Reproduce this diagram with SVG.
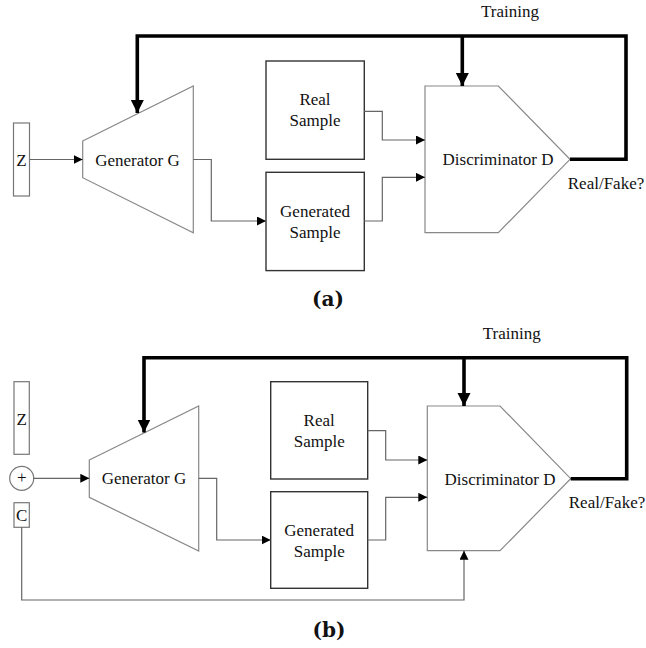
<svg xmlns="http://www.w3.org/2000/svg" width="646" height="648" viewBox="0 0 646 648">
<style>
text{font-family:'Liberation Serif','Tinos','DejaVu Serif',serif;font-size:17px;fill:#111;text-anchor:middle}
text.lab{font-family:'DejaVu Serif','Liberation Serif',serif;font-weight:bold;font-size:20px}
.vec{fill:#fff;stroke:#777;stroke-width:1.2}
.box{fill:#fff;stroke:#333;stroke-width:1.4}
.blk{fill:#fff;stroke:#888;stroke-width:1.2}
.thin{fill:none;stroke:#666;stroke-width:1.2}
.thick{fill:none;stroke:#000;stroke-width:3.6}
</style>
<defs>
<marker id="a" markerUnits="userSpaceOnUse" markerWidth="10" markerHeight="10" refX="9" refY="4.5" orient="auto"><path d="M0,0 L9,4.5 L0,9 Z" fill="#000"/></marker>
<marker id="A" markerUnits="userSpaceOnUse" markerWidth="14" markerHeight="14" refX="13" refY="6.5" orient="auto"><path d="M0,0 L13,6.5 L0,13 Z" fill="#000"/></marker>
</defs>

<!-- Panel (a) -->
<g id="a-z"><rect class="vec" x="13.5" y="123" width="16" height="73"/><text x="21.5" y="166">Z</text></g>
<g id="a-gen"><polygon class="blk" points="82.7,141 193.3,86 193.3,232.7 82.7,177.7"/><text x="137.5" y="166">Generator G</text></g>
<g id="a-real"><rect class="box" x="266" y="61" width="98.3" height="98.3"/><text x="315" y="105">Real</text><text x="315" y="126">Sample</text></g>
<g id="a-genS"><rect class="box" x="266" y="172.3" width="98.3" height="98.3"/><text x="315" y="217">Generated</text><text x="315" y="238">Sample</text></g>
<g id="a-disc"><polygon class="blk" points="425,86 498.3,86 570,159.3 498.3,232.7 425,232.7"/><text x="498" y="165">Discriminator D</text></g>
<g id="a-texts"><text x="510" y="17">Training</text><text x="606" y="189">Real/Fake?</text><text class="lab" x="328" y="306">(a)</text></g>
<g id="a-edges">
<path class="thin" d="M29.5,159.5 H82.7" marker-end="url(#a)"/>
<path class="thin" d="M193.3,159.5 H211.3 V221 H266" marker-end="url(#a)"/>
<path class="thin" d="M364.3,111.3 H382.3 V140 H425" marker-end="url(#a)"/>
<path class="thin" d="M364.3,221 H382.3 V177.3 H425" marker-end="url(#a)"/>
<path class="thick" d="M570,159.3 H626 V36 H137.3 V113" marker-end="url(#A)"/>
<path class="thick" d="M462.3,36 V86" marker-end="url(#A)"/>
</g>

<!-- Panel (b) -->
<g id="b-z"><rect class="vec" x="14" y="381.7" width="15.3" height="72.6"/><text x="21.7" y="425">Z</text></g>
<g id="b-plus"><circle class="vec" cx="21.7" cy="478.3" r="12"/><text x="21.7" y="483.4">+</text></g>
<g id="b-c"><rect class="vec" x="14" y="502.7" width="15.3" height="24.6"/><text x="21.7" y="521">C</text></g>
<g id="b-gen"><polygon class="blk" points="89.3,460 198.7,406 198.7,551 89.3,497.3"/><text x="144" y="484">Generator G</text></g>
<g id="b-real"><rect class="box" x="270.7" y="381.7" width="97" height="97.3"/><text x="319.2" y="426">Real</text><text x="319.2" y="447">Sample</text></g>
<g id="b-genS"><rect class="box" x="270.7" y="491.7" width="97" height="96.6"/><text x="319.2" y="536">Generated</text><text x="319.2" y="557">Sample</text></g>
<g id="b-disc"><polygon class="blk" points="427.3,406 500,406 570.7,478.7 500,550.7 427.3,550.7"/><text x="500" y="485">Discriminator D</text></g>
<g id="b-texts"><text x="511.7" y="339">Training</text><text x="607" y="508">Real/Fake?</text><text class="lab" x="329" y="637">(b)</text></g>
<g id="b-edges">
<path class="thin" d="M33.7,478.3 H89.3" marker-end="url(#a)"/>
<path class="thin" d="M198.7,478.3 H216.7 V540 H270.7" marker-end="url(#a)"/>
<path class="thin" d="M367.7,430.7 H385.7 V460 H427.3" marker-end="url(#a)"/>
<path class="thin" d="M367.7,540 H385.7 V497.3 H427.3" marker-end="url(#a)"/>
<path class="thin" d="M21.7,527.3 V600 H464 V550.7" marker-end="url(#a)"/>
<path class="thick" d="M570.7,478.7 H626.7 V357.7 H144 V432.5" marker-end="url(#A)"/>
<path class="thick" d="M464,357.7 V406" marker-end="url(#A)"/>
</g>
</svg>
